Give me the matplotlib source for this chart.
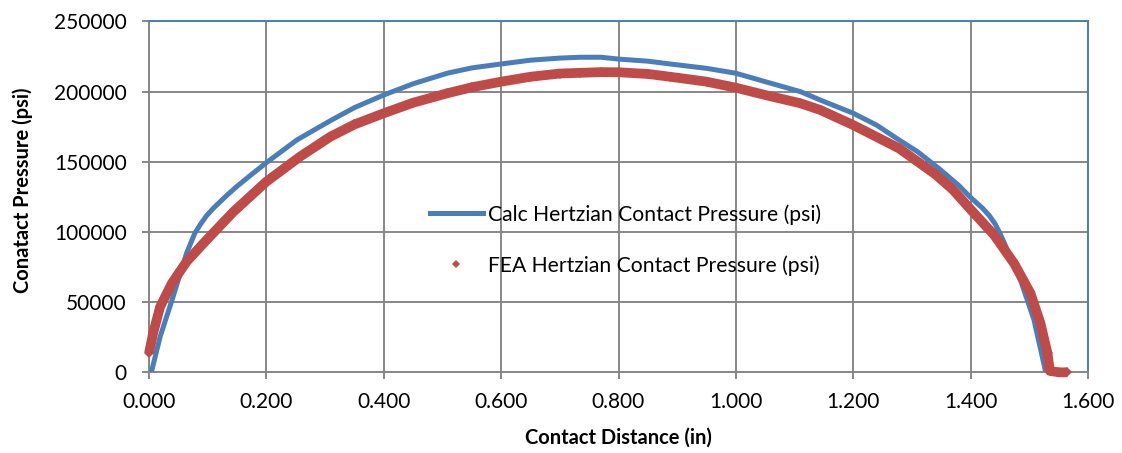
import matplotlib
matplotlib.use('Agg')
import matplotlib.pyplot as plt
from matplotlib.lines import Line2D

plt.rcParams['font.family'] = ['Lato', 'DejaVu Sans']

# calculated hertzian pressure (in, psi)
calc_x = [0.004, 0.019, 0.041, 0.064, 0.078, 0.087, 0.098, 0.110, 0.120, 0.132,
          0.150, 0.175, 0.200, 0.252, 0.309, 0.350, 0.400, 0.450, 0.508, 0.550,
          0.600, 0.650, 0.700, 0.735, 0.770, 0.800, 0.850, 0.888, 0.950, 1.000,
          1.050, 1.110, 1.144, 1.200, 1.240, 1.278, 1.310, 1.349, 1.380, 1.400,
          1.420, 1.432, 1.442, 1.450, 1.458, 1.470, 1.485, 1.508, 1.528]
calc_p = [0, 25400, 53800, 84800, 99000, 105000, 111500, 117000, 121000, 125800,
          132500, 141000, 149300, 165500, 179200, 188500, 197500, 205500, 213000, 216800,
          219600, 222300, 223800, 224400, 224400, 223100, 221600, 219600, 216500, 213000,
          207000, 199900, 193900, 184500, 176000, 165500, 157000, 144100, 133000, 124500,
          117000, 111500, 105500, 99000, 91500, 79500, 65700, 37300, 0]

# FEA contact pressure (in, psi)
fea_x = [0.000, 0.007, 0.019, 0.039, 0.064, 0.098, 0.144, 0.200, 0.257, 0.309,
         0.350, 0.400, 0.450, 0.508, 0.550, 0.600, 0.650, 0.700, 0.735, 0.770,
         0.800, 0.850, 0.888, 0.950, 1.000, 1.050, 1.110, 1.144, 1.200, 1.278,
         1.340, 1.370, 1.400, 1.440, 1.474, 1.502, 1.519, 1.531, 1.535, 1.550,
         1.565]
fea_p = [13500, 27800, 46700, 63400, 78800, 94200, 114400, 135800, 153500, 167800,
         176500, 184500, 192000, 198700, 203000, 207000, 210500, 212800, 213300, 213800,
         213700, 212500, 210500, 207000, 202700, 197500, 191600, 186800, 176100, 159500,
         141000, 130000, 116000, 97800, 77600, 56300, 34900, 13500, 1000, 0,
         0]

x_ticks = [0.0, 0.2, 0.4, 0.6, 0.8, 1.0, 1.2, 1.4, 1.6]
y_ticks = [0, 50000, 100000, 150000, 200000, 250000]

blue = '#4A7EBB'
red = '#BE4B48'
grey = '#878787'

fig = plt.figure(figsize=(11.22, 4.53), dpi=100)
ax = fig.add_axes([149 / 1122, 1 - 372.3 / 453, 939 / 1122, 351 / 453])

ax.plot(calc_x, calc_p, color=blue, lw=3.6, solid_capstyle='butt', zorder=3)
# dense FEA markers form a solid band
ax.plot(fea_x, fea_p, color=red, lw=7, solid_joinstyle='round',
        solid_capstyle='butt', zorder=4, clip_on=False)
ax.plot(fea_x, fea_p, 'D', color=red, ms=4.6, mec=red, mew=0, zorder=4,
        clip_on=False)

ax.set_xlim(0, 1.6)
ax.set_ylim(0, 250000)
ax.set_xticks(x_ticks)
ax.set_yticks(y_ticks)
ax.set_xticklabels(['%.3f' % v for v in x_ticks])
ax.set_yticklabels([str(v) for v in y_ticks])
ax.grid(True, color=grey, lw=1.4, zorder=0)
ax.set_axisbelow(True)

for side in ['left', 'bottom']:
    ax.spines[side].set_color(grey)
    ax.spines[side].set_linewidth(1.4)
for side in ['top', 'right']:
    ax.spines[side].set_color(blue)
    ax.spines[side].set_linewidth(1.4)

ax.tick_params(axis='both', colors=grey, length=5, width=1.4, labelsize=15,
               labelcolor='black')
ax.tick_params(axis='y', pad=11)
ax.tick_params(axis='x', pad=9)

handles = [Line2D([], [], color=blue, lw=3.6),
           Line2D([], [], color=red, marker='D', ms=4, mew=0, ls='none')]
labels = ['Calc Hertzian Contact Pressure (psi)', 'FEA Hertzian Contact Pressure (psi)']
ax.legend(handles, labels, loc='center left', bbox_to_anchor=(0.299, 0.377),
          frameon=False, fontsize=15.2, handlelength=2.5, handletextpad=0.25,
          labelspacing=1.45, borderpad=0, borderaxespad=0)

fig.text(618 / 1122, 1 - 438 / 453, 'Contact Distance (in)', ha='center',
         va='center', fontsize=14.5, fontweight='bold')
fig.text(23 / 1122, 1 - 190 / 453, 'Conatact Pressure (psi)', ha='center',
         va='center', rotation=90, fontsize=14.5, fontweight='bold')

fig.savefig('out.png', dpi=100)
